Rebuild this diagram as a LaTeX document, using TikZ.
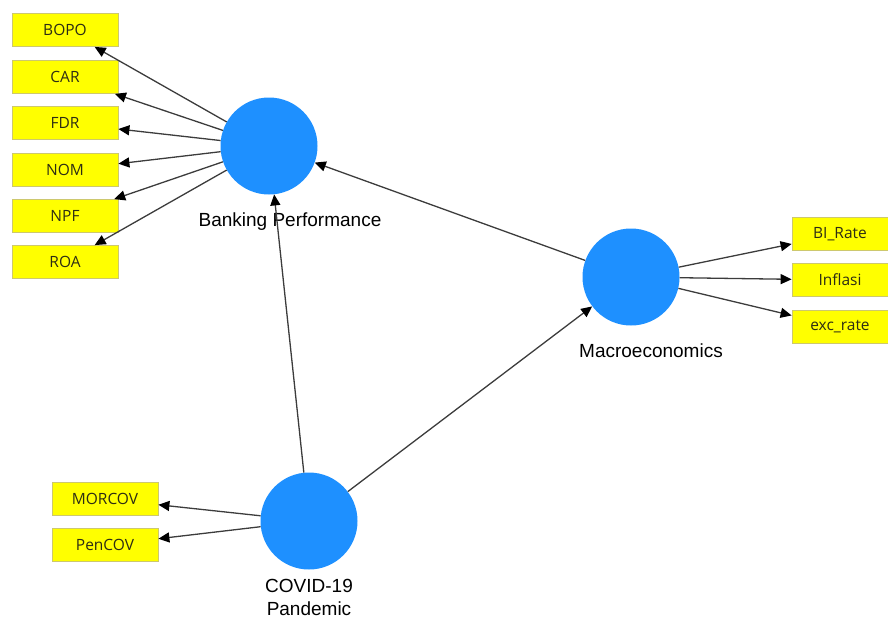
\documentclass[tikz,border=0pt]{standalone}
\usepackage{fontspec}
\setmainfont{Liberation Sans}
\newfontfamily\boxfont{Open Sans}
\usetikzlibrary{arrows.meta}
\definecolor{lvblue}{RGB}{30,144,255}
\definecolor{indyellow}{RGB}{255,255,0}
\definecolor{indborder}{RGB}{205,200,110}
\definecolor{indtext}{RGB}{45,45,20}
\definecolor{linkgray}{RGB}{60,60,60}
\tikzset{
  latent/.style={circle, fill=lvblue, draw=none, minimum size=97pt, inner sep=0pt},
  indicator/.style={rectangle, fill=indyellow, draw=indborder, line width=0.8pt,
    minimum width=106pt, minimum height=33pt, inner sep=0pt,
    font=\boxfont\fontsize{15.5}{18}\selectfont, text=indtext},
  rindicator/.style={indicator, minimum width=96pt},
  lvlabel/.style={font=\fontsize{19}{23}\selectfont, text=black, align=center},
  link/.style={draw=linkgray, line width=1.3pt, -{Triangle[length=11pt,width=10pt,color=black]}}
}
\begin{document}
\begin{tikzpicture}[x=1pt,y=-1pt]
\useasboundingbox (0,0) rectangle (888,619);
% latent variables
\node[latent] (bp) at (269,146) {};
\node[latent] (me) at (631,277) {};
\node[latent] (cv) at (309,521) {};
\node[lvlabel] (bpl) at (290,222) {Banking Performance};
\node[lvlabel] (mel) at (651,351) {Macroeconomics};
\node[lvlabel] (cvl) at (309,597) {COVID-19\\Pandemic};
% indicators
\node[indicator] (bopo) at (65,30) {BOPO};
\node[indicator] (car) at (65,77) {CAR};
\node[indicator] (fdr) at (65,123) {FDR};
\node[indicator] (nom) at (65,170) {NOM};
\node[indicator] (npf) at (65,216) {NPF};
\node[indicator] (roa) at (65,262) {ROA};
\node[rindicator] (bi) at (840,234) {BI\_Rate};
\node[rindicator] (inf) at (840,280) {Inflasi};
\node[rindicator] (exc) at (840,327) {exc\_rate};
\node[indicator] (mor) at (105,499) {MORCOV};
\node[indicator] (pen) at (105,545) {PenCOV};
% links
\foreach \t in {bopo,car,fdr,nom,npf,roa} \draw[link] (bp) -- (\t);
\foreach \t in {bi,inf,exc} \draw[link] (me) -- (\t);
\foreach \t in {mor,pen} \draw[link] (cv) -- (\t);
\draw[link] (me) -- (bp);
\draw[link] (cv) -- (bp);
\draw[link] (cv) -- (me);
\end{tikzpicture}
\end{document}
